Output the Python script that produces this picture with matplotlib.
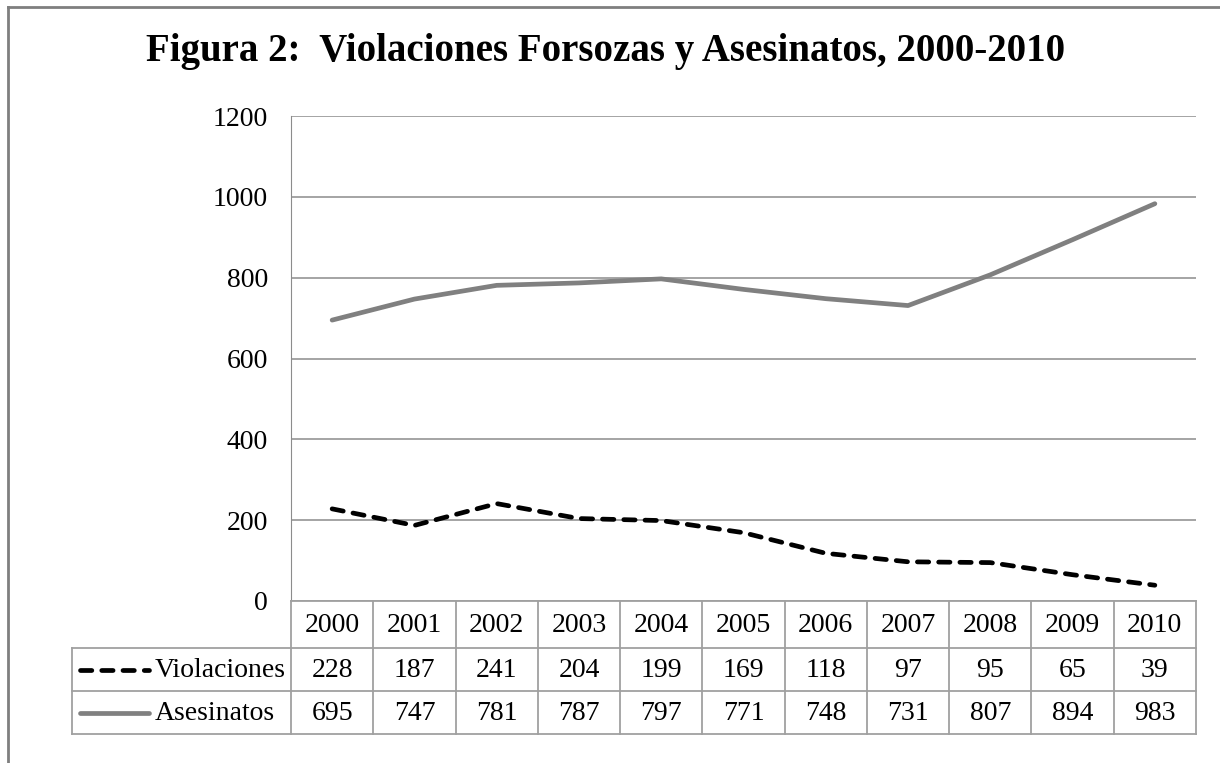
import matplotlib.pyplot as plt
from matplotlib.lines import Line2D

plt.rcParams['font.family'] = ['Liberation Serif', 'DejaVu Serif']

years = ['2000', '2001', '2002', '2003', '2004', '2005', '2006', '2007', '2008', '2009', '2010']
violaciones = [228, 187, 241, 204, 199, 169, 118, 97, 95, 65, 39]
asesinatos = [695, 747, 781, 787, 797, 771, 748, 731, 807, 894, 983]
yticks = [0, 200, 400, 600, 800, 1000, 1200]

W, H = 1220, 763
fig = plt.figure(figsize=(12.2, 7.63), dpi=100)

def fx(px):
    return px / W

def fy(py):
    return 1 - py / H

# plot area (pixels)
left, right, top, bottom = 291, 1196, 116, 601
ax = fig.add_axes([fx(left), fy(bottom), fx(right) - fx(left), fy(top) - fy(bottom)])
n = len(years)
x = list(range(n))
ax.set_xlim(-0.5, n - 0.5)
ax.set_ylim(0, 1200)
ax.set_yticks(yticks)
ax.set_yticklabels([str(t) for t in yticks], fontsize=20)
ax.tick_params(axis='y', length=0, pad=16.5)
ax.set_xticks([])
ax.grid(axis='y', color='#8c8c8c', linewidth=1.1)
for s in ['top', 'right', 'bottom']:
    ax.spines[s].set_visible(False)
ax.spines['left'].set_color('#8c8c8c')
ax.set_axisbelow(True)

grey = '#808080'
dash = (0, (2.4, 2.1))
ax.plot(x, asesinatos, color=grey, linewidth=3.4, solid_capstyle='round')
ax.plot(x, violaciones, color='black', linewidth=3.4, linestyle=dash, dash_capstyle='round')

# data table below the plot
tbl_left, tbl_bottom = 72, 734
row_h = [47, 43, 43]
unit = (right - left) / n
tx0 = -0.5 - (left - tbl_left) / unit
tax = fig.add_axes([fx(tbl_left), fy(tbl_bottom), fx(right) - fx(tbl_left), fy(bottom) - fy(tbl_bottom)])
tax.set_xlim(tx0, n - 0.5)
tax.set_ylim(sum(row_h), 0)
tax.axis('off')
lc = '#a0a0a0'
lw = 1.3
ys = [0]
for h in row_h:
    ys.append(ys[-1] + h)
tax.plot([-0.5, n - 0.5], [0, 0], color=lc, lw=lw, clip_on=False)
for yy in ys[1:]:
    tax.plot([tx0, n - 0.5], [yy, yy], color=lc, lw=lw, clip_on=False)
for i in range(n + 1):
    tax.plot([i - 0.5, i - 0.5], [0, ys[-1]], color=lc, lw=lw, clip_on=False)
tax.plot([tx0, tx0], [ys[1], ys[-1]], color=lc, lw=lw, clip_on=False)

mid = [(ys[k] + ys[k + 1]) / 2 + 1 for k in range(3)]
for i, yr in enumerate(years):
    tax.text(i, mid[0], yr, ha='center', va='center', fontsize=20)
    tax.text(i, mid[1], str(violaciones[i]), ha='center', va='center', fontsize=20)
    tax.text(i, mid[2], str(asesinatos[i]), ha='center', va='center', fontsize=20)

key0 = tx0 + 8 / unit
key1 = tx0 + 77 / unit
lab_x = tx0 + 83 / unit
tax.plot([key0, key1], [mid[1] - 1, mid[1] - 1], color='black', lw=3.4,
         linestyle=dash, dash_capstyle='round', clip_on=False)
tax.plot([key0, key1], [mid[2] - 1, mid[2] - 1], color=grey, lw=3.4,
         solid_capstyle='round', clip_on=False)
tax.text(lab_x, mid[1], 'Violaciones', ha='left', va='center', fontsize=20)
tax.text(lab_x, mid[2], 'Asesinatos', ha='left', va='center', fontsize=20)

# title
fig.text(fx(606), fy(61), 'Figura 2:  Violaciones Forsozas y Asesinatos, 2000-2010',
         ha='center', va='baseline', fontsize=28, fontweight='bold')

# outer frame (top and left edges)
fig.add_artist(Line2D([fx(8), fx(8)], [fy(7), 0], color='#7f7f7f', lw=2))
fig.add_artist(Line2D([fx(8), 1], [fy(7), fy(7)], color='#7f7f7f', lw=2))

fig.savefig('out.png', dpi=100)
